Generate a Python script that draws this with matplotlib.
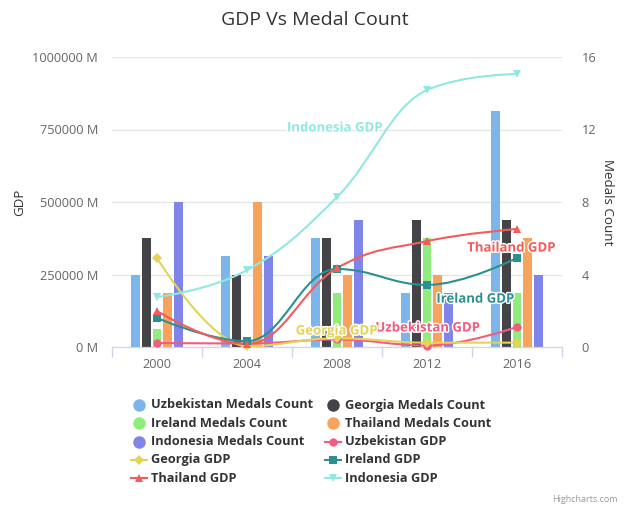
import matplotlib
matplotlib.use("Agg")
import matplotlib.pyplot as plt
from matplotlib.path import Path
from matplotlib.patches import PathPatch
from matplotlib.lines import Line2D
import matplotlib.patheffects as pe

plt.rcParams['font.family'] = ['Open Sans', 'DejaVu Sans']

years = ["2000", "2004", "2008", "2012", "2016"]

# Medal counts (right axis)
uzb_medals = [4, 5, 6, 3, 13]
geo_medals = [6, 4, 6, 7, 7]
ire_medals = [1, 0, 3, 6, 3]
tha_medals = [3, 8, 4, 4, 6]
ind_medals = [8, 5, 7, 3, 4]

# GDP in millions (left axis)
uzb_gdp = [14000, 12000, 26000, 5000, 69000]
geo_gdp = [307000, 3000, 30000, 15000, 15000]
ire_gdp = [100000, 20000, 269000, 214000, 307000]
tha_gdp = [124000, 10000, 272000, 365000, 407000]
ind_gdp = [172000, 265000, 517000, 886000, 941000]

bar_series = [
    ("Uzbekistan Medals Count", uzb_medals, "#7cb5ec"),
    ("Georgia Medals Count", geo_medals, "#434348"),
    ("Ireland Medals Count", ire_medals, "#90ed7d"),
    ("Thailand Medals Count", tha_medals, "#f7a35c"),
    ("Indonesia Medals Count", ind_medals, "#8085e9"),
]
line_series = [
    ("Uzbekistan GDP", uzb_gdp, "#f15c80", "o"),
    ("Georgia GDP", geo_gdp, "#e4d354", "D"),
    ("Ireland GDP", ire_gdp, "#2b908f", "s"),
    ("Thailand GDP", tha_gdp, "#f45b5b", "^"),
    ("Indonesia GDP", ind_gdp, "#91e8e1", "v"),
]
# where each line's name is written inside the plot (category units, GDP)
line_label_pos = {
    "Indonesia GDP": (1.98, 755000),
    "Thailand GDP": (3.94, 341000),
    "Ireland GDP": (3.54, 165000),
    "Uzbekistan GDP": (3.01, 65500),
    "Georgia GDP": (2.0, 55000),
}
marker_size = {"o": 6.0, "D": 5.0, "s": 5.6, "^": 6.2, "v": 6.2}

W, H = 626, 507
fig = plt.figure(figsize=(W / 100, H / 100), dpi=100)
L, R, T, B = 112, 562, 57, 347
ax_med = fig.add_axes([L / W, 1 - B / H, (R - L) / W, (B - T) / H])
ax_gdp = ax_med.twinx()
ax_gdp.set_zorder(ax_med.get_zorder() + 1)
ax_gdp.patch.set_visible(False)


def spline_path(xs, ys, smoothing=1.5):
    """Smooth curve through the points using cubic Bezier segments."""
    n = len(xs)
    verts = [(xs[0], ys[0])]
    codes = [Path.MOVETO]
    right_ctrl = [None] * n
    for i in range(1, n):
        px, py = xs[i], ys[i]
        lx, ly = xs[i - 1], ys[i - 1]
        if i < n - 1:
            nx, ny = xs[i + 1], ys[i + 1]
            d = smoothing + 1
            lcx, lcy = (smoothing * px + lx) / d, (smoothing * py + ly) / d
            rcx, rcy = (smoothing * px + nx) / d, (smoothing * py + ny) / d
            corr = ((rcy - lcy) * (rcx - px)) / (rcx - lcx) + py - rcy
            lcy += corr
            rcy += corr
            if lcy > ly and lcy > py:
                lcy = max(ly, py); rcy = 2 * py - lcy
            elif lcy < ly and lcy < py:
                lcy = min(ly, py); rcy = 2 * py - lcy
            if rcy > ny and rcy > py:
                rcy = max(ny, py); lcy = 2 * py - rcy
            elif rcy < ny and rcy < py:
                rcy = min(ny, py); lcy = 2 * py - rcy
            right_ctrl[i] = (rcx, rcy)
        else:
            lcx, lcy = px, py
        prev = right_ctrl[i - 1] if right_ctrl[i - 1] is not None else (lx, ly)
        verts += [prev, (lcx, lcy), (px, py)]
        codes += [Path.CURVE4] * 3
    return Path(verts, codes)


x = list(range(len(years)))
slot = 0.12
bar_w = 0.096
for j, (name, vals, col) in enumerate(bar_series):
    ax_med.bar([xi + (j - 2) * slot for xi in x], vals, width=bar_w, color=col,
               zorder=2, linewidth=0)

for name, vals, col, mk in line_series:
    ax_gdp.add_patch(PathPatch(spline_path(x, vals), fill=False, edgecolor=col,
                               lw=1.5, zorder=3, capstyle='round'))
    ax_gdp.plot(x, vals, linestyle='none', marker=mk, color=col,
                markersize=marker_size[mk], markeredgewidth=0, zorder=4,
                clip_on=False)
    lx, ly = line_label_pos[name]
    ax_gdp.text(lx, ly, name, color=col, fontsize=9.5, fontweight='bold',
                ha='center', va='center', zorder=5,
                path_effects=[pe.withStroke(linewidth=2, foreground='white')])

# axes, ticks, grid
ax_med.set_xlim(-0.5, 4.5)
ax_med.set_ylim(0, 16)
ax_gdp.set_ylim(0, 1000000)
ax_med.set_yticks([0, 4, 8, 12, 16])
ax_gdp.set_yticks([0, 250000, 500000, 750000, 1000000])
ax_gdp.set_yticklabels([f"{int(v)} M" for v in ax_gdp.get_yticks()])
ax_med.grid(axis='y', color='#e6e6e6', lw=1, zorder=0)
ax_med.set_axisbelow(True)

for a in (ax_med, ax_gdp):
    for s in ('top', 'left', 'right'):
        a.spines[s].set_visible(False)
    a.spines['bottom'].set_color('#ccd6eb')

ax_med.set_xticks(x)
ax_med.set_xticklabels(years)
ax_med.set_xticks([v - 0.5 for v in range(len(years) + 1)], minor=True)
ax_med.tick_params(axis='x', which='major', length=0, pad=8, labelsize=9.2,
                   labelcolor='#666666')
ax_med.tick_params(axis='x', which='minor', length=7.2, color='#ccd6eb', width=1)

# medal counts labelled on the right, GDP on the left
ax_med.yaxis.tick_right()
ax_med.tick_params(axis='y', length=0, pad=14, labelsize=9.2, labelcolor='#666666',
                   left=False, labelleft=False, right=False, labelright=True)
ax_gdp.yaxis.tick_left()
ax_gdp.tick_params(axis='y', length=0, pad=10, labelsize=9.2, labelcolor='#666666',
                   right=False, labelright=False, left=False, labelleft=True)

# overlay in pixel coordinates for title, axis titles, legend and credits
ov = fig.add_axes([0, 0, 1, 1], zorder=10)
ov.set_xlim(0, W)
ov.set_ylim(H, 0)
ov.axis('off')
ov.patch.set_visible(False)

ov.text(315, 20, "GDP Vs Medal Count", ha='center', va='center', fontsize=14,
        color='#333333')
ov.text(20, 202, "GDP", rotation=90, ha='center', va='center', fontsize=9.6,
        color='#333333')
ov.text(607, 202, "Medals Count", rotation=270, ha='center', va='center',
        fontsize=9.6, color='#333333')
ov.text(618, 499, "Highcharts.com", ha='right', va='center', fontsize=6.5,
        color='#999999')

legend_items = [(n, c, None) for n, _, c in bar_series] + \
               [(n, c, m) for n, _, c, m in line_series]
col_x = [139, 333]
row_y0, row_dy = 405, 18.3
for k, (name, col, mk) in enumerate(legend_items):
    cx = col_x[k % 2]
    cy = row_y0 + (k // 2) * row_dy
    if mk is None:
        ov.add_line(Line2D([cx], [cy], marker='o', markersize=9, color=col,
                           markeredgewidth=0, linestyle='none'))
    else:
        ov.add_line(Line2D([cx - 8, cx + 8], [cy, cy], color=col, lw=1.5))
        ov.add_line(Line2D([cx], [cy], marker=mk, markersize=marker_size[mk],
                           color=col, markeredgewidth=0, linestyle='none'))
    ov.text(cx + 12, cy, name, ha='left', va='center', fontsize=9.2,
            fontweight='bold', color='#333333')

fig.savefig("out.png", dpi=100)
